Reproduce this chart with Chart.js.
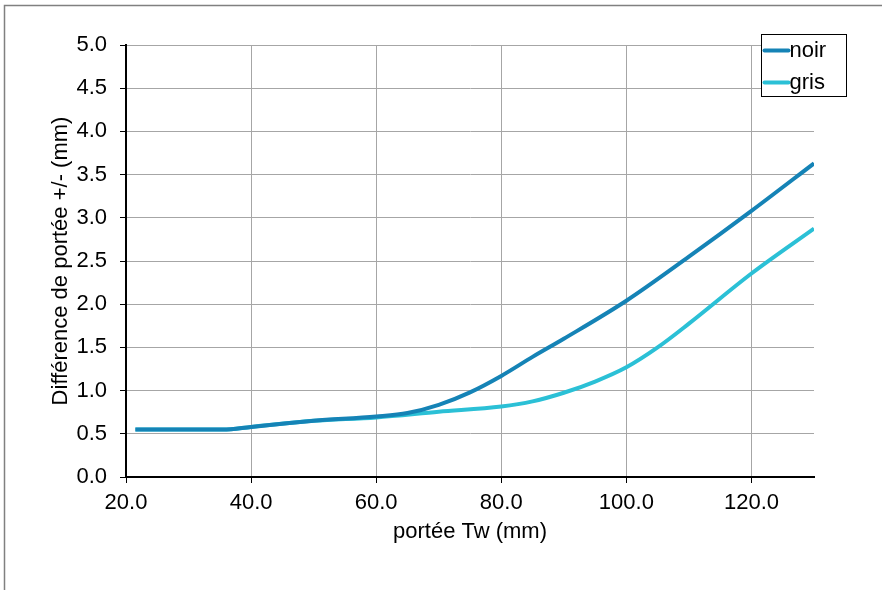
<!DOCTYPE html>
<html lang="fr">
<head>
    <meta charset="UTF-8">
    <title>Différence de portée</title>
    <script src="https://cdn.jsdelivr.net/npm/chart.js"></script>
    <style>
        body { margin: 0; background: #fff; }
    </style>
</head>
<body>
    <canvas id="rangeChart" width="882" height="590"></canvas>
    <script>
        // portée Tw (mm) / différence (mm)
        const noirX = [21.5, 30, 35.5, 40, 50, 60, 65, 70, 75, 80, 85, 90, 100, 110, 120, 130];
        const noirY = [0.55, 0.55, 0.55, 0.58, 0.65, 0.70, 0.74, 0.835, 0.98, 1.17, 1.39, 1.60, 2.04, 2.55, 3.08, 3.63];

        const grisX = [21.5, 30, 35.5, 40, 50, 60, 70, 80, 85, 90, 95, 100, 105, 110, 120, 130];
        const grisY = [0.55, 0.55, 0.55, 0.58, 0.65, 0.69, 0.755, 0.815, 0.875, 0.975, 1.105, 1.27, 1.50, 1.775, 2.355, 2.875];

        const seriesLabels = ['noir', 'gris'];
        const xTitle = 'portée Tw (mm)';
        const yTitle = 'Différence de portée +/- (mm)';

        const FONT = "'Liberation Sans', Arial, sans-serif";
        Chart.defaults.font.family = FONT;
        Chart.defaults.font.size = 22;
        Chart.defaults.color = '#000';

        const toPoints = (xs, ys) => xs.map((x, i) => ({ x: x, y: ys[i] }));

        // grey frame at the top and left of the picture
        const framePlugin = {
            id: 'frame',
            beforeDraw(chart) {
                const ctx = chart.ctx;
                ctx.save();
                ctx.fillStyle = '#fff';
                ctx.fillRect(0, 0, chart.width, chart.height);
                ctx.strokeStyle = '#808080';
                ctx.lineWidth = 1.5;
                ctx.beginPath();
                ctx.moveTo(4.5, chart.height);
                ctx.lineTo(4.5, 5.5);
                ctx.lineTo(chart.width, 5.5);
                ctx.stroke();
                ctx.restore();
            }
        };

        // boxed legend in the top right corner of the plot
        const boxLegend = {
            id: 'boxLegend',
            afterDraw(chart) {
                const ctx = chart.ctx;
                const bx = 761.5, by = 34.5, bw = 85, bh = 62;
                ctx.save();
                ctx.fillStyle = '#fff';
                ctx.fillRect(bx, by, bw, bh);
                ctx.strokeStyle = '#000';
                ctx.lineWidth = 1;
                ctx.strokeRect(bx, by, bw, bh);
                ctx.font = '22px ' + FONT;
                ctx.textBaseline = 'middle';
                ctx.textAlign = 'left';
                chart.data.datasets.forEach((ds, i) => {
                    const y = by + 16 + i * 32;
                    ctx.strokeStyle = ds.borderColor;
                    ctx.lineWidth = 4;
                    ctx.lineCap = 'round';
                    ctx.beginPath();
                    ctx.moveTo(bx + 3, y);
                    ctx.lineTo(bx + 27, y);
                    ctx.stroke();
                    ctx.fillStyle = '#000';
                    ctx.fillText(ds.label, bx + 28, y);
                });
                ctx.restore();
            }
        };

        const ctx = document.getElementById('rangeChart').getContext('2d');
        new Chart(ctx, {
            type: 'line',
            data: {
                datasets: [
                    {
                        label: seriesLabels[0],
                        data: toPoints(noirX, noirY),
                        borderColor: '#1583b6',
                        borderWidth: 4,
                        pointRadius: 0,
                        cubicInterpolationMode: 'monotone',
                        fill: false
                    },
                    {
                        label: seriesLabels[1],
                        data: toPoints(grisX, grisY),
                        borderColor: '#2bc0d6',
                        borderWidth: 4,
                        pointRadius: 0,
                        cubicInterpolationMode: 'monotone',
                        fill: false
                    }
                ]
            },
            options: {
                responsive: false,
                animation: false,
                layout: { padding: { left: 0, top: 45, right: 68, bottom: 0 } },
                plugins: {
                    legend: { display: false },
                    tooltip: { enabled: false }
                },
                scales: {
                    x: {
                        type: 'linear',
                        min: 20,
                        max: 130,
                        afterFit: (scale) => { scale.height = 113; },
                        afterBuildTicks: (scale) => {
                            scale.ticks = scale.ticks.filter(t => t.value <= 120);
                        },
                        ticks: {
                            stepSize: 20,
                            padding: 7,
                            maxRotation: 0,
                            callback: (v) => v.toFixed(1)
                        },
                        grid: { color: '#a6a6a6', lineWidth: 1, tickLength: 6, tickColor: '#000' },
                        border: { color: '#000', width: 2 },
                        title: { display: true, text: xTitle, padding: { top: 0, bottom: 45 } }
                    },
                    y: {
                        min: 0,
                        max: 5,
                        afterFit: (scale) => { scale.width = 126; },
                        ticks: {
                            stepSize: 0.5,
                            padding: 13,
                            callback: (v) => v.toFixed(1)
                        },
                        grid: { color: '#a6a6a6', lineWidth: 1, tickLength: 6, tickColor: '#000' },
                        border: { color: '#000', width: 2 },
                        title: { display: true, text: yTitle, padding: { top: 48, bottom: 0 } }
                    }
                }
            },
            plugins: [framePlugin, boxLegend]
        });
    </script>
</body>
</html>
